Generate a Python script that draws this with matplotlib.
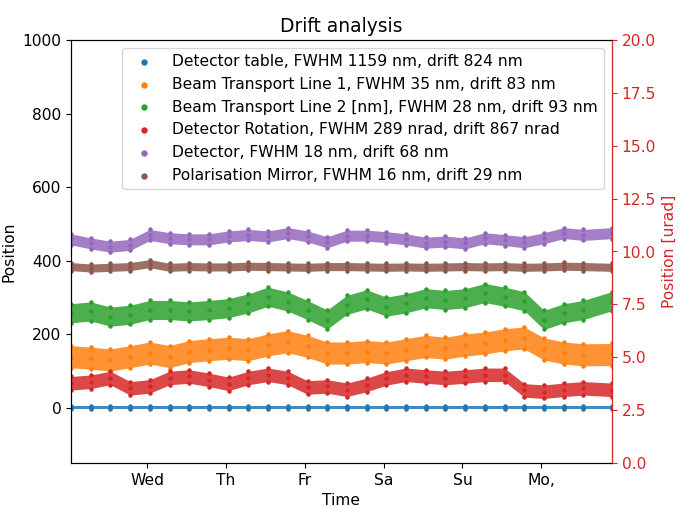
import pandas as pd
import matplotlib
matplotlib.use("Agg")
import matplotlib.pyplot as plt

plt.rcParams["font.size"] = 11.2

# sample times, hours after the start of the run (Tue ~00:51)
t_hours = [0, 6, 12, 18, 24, 30, 36, 42, 48, 54, 60, 66, 72, 78,
           84, 90, 96, 102, 108, 114, 120, 126, 132, 138, 144, 150, 156, 164.7]

# position values, left axis [nm]
detector_table = [0, 0, 0, 0, 0, 0, 0, 0, 0, 0, 0, 0, 0, 0,
                  0, 0, 0, 0, 0, 0, 0, 0, 0, 0, 0, 0, 0, 0]
btl1 = [139, 135, 130, 139, 149, 139, 153, 158, 162, 158, 171, 180, 167, 149,
        149, 153, 149, 158, 167, 162, 171, 176, 185, 190, 160, 149, 144, 145]
btl2 = [257, 262, 248, 253, 266, 266, 262, 266, 271, 284, 302, 289, 266, 240,
        280, 295, 275, 284, 298, 293, 298, 312, 302, 290, 239, 257, 266, 290]
detector = [458, 447, 438, 443, 470, 461, 458, 458, 466, 470, 466, 475, 466, 450,
            468, 468, 464, 458, 449, 452, 447, 461, 456, 450, 461, 475, 470, 475]
pol_mirror = [384, 380, 382, 384, 392, 382, 384, 383, 383, 385, 384, 383, 382, 384,
              384, 383, 382, 383, 382, 383, 384, 383, 384, 382, 383, 385, 384, 382]

# right axis [urad]
det_rotation = [3.77, 3.84, 4.02, 3.53, 3.62, 4.02, 4.09, 3.93, 3.74, 4.02, 4.17, 4.02, 3.57, 3.62,
                3.46, 3.69, 4.00, 4.17, 4.09, 4.02, 4.09, 4.17, 4.17, 3.43, 3.37, 3.46, 3.53, 3.46]

# half width of the scatter band of each series
spread_nm = {"table": 4, "btl1": 30, "btl2": 26, "detector": 15, "mirror": 11}
spread_urad = 0.32

labels = [
    "Detector table, FWHM 1159 nm, drift 824 nm",
    "Beam Transport Line 1, FWHM 35 nm, drift 83 nm",
    "Beam Transport Line 2 [nm], FWHM 28 nm, drift 93 nm",
    "Detector Rotation, FWHM 289 nrad, drift 867 nrad",
    "Detector, FWHM 18 nm, drift 68 nm",
    "Polarisation Mirror, FWHM 16 nm, drift 29 nm",
]
day_ticks = ["2024-01-03", "2024-01-04", "2024-01-05", "2024-01-06", "2024-01-07", "2024-01-08"]
day_labels = ["Wed", "Th", "Fr", "Sa", "Su", "Mo,"]

t0 = pd.Timestamp("2024-01-02 00:51")
times = t0 + pd.to_timedelta(t_hours, unit="h")


def draw_band(ax, t, vals, spread, color, label):
    lo = [v - spread for v in vals]
    hi = [v + spread for v in vals]
    ax.fill_between(t, lo, hi, color=color, alpha=0.85, lw=0)
    ax.scatter(t, lo, s=5, color=color)
    ax.scatter(t, hi, s=5, color=color)
    return ax.scatter(t, vals, s=5, color=color, label=label)


fig, ax1 = plt.subplots(figsize=(6.81, 5.05), dpi=100)
fig.subplots_adjust(left=71 / 681, right=612 / 681, top=1 - 40 / 505, bottom=1 - 463 / 505)

h = []
h.append(draw_band(ax1, times, detector_table, spread_nm["table"], "tab:blue", labels[0]))
h.append(draw_band(ax1, times, btl1, spread_nm["btl1"], "tab:orange", labels[1]))
h.append(draw_band(ax1, times, btl2, spread_nm["btl2"], "tab:green", labels[2]))
h_det = draw_band(ax1, times, detector, spread_nm["detector"], "tab:purple", labels[4])
h_mir = draw_band(ax1, times, pol_mirror, spread_nm["mirror"], "tab:brown", labels[5])

ax1.set_ylim(-150, 1000)
ax1.set_ylabel("Position")
ax1.set_xlabel("Time")
ax1.set_title("Drift analysis")
ax1.set_xlim(times[0], times[-1])
ax1.set_xticks(pd.to_datetime(day_ticks))
ax1.set_xticklabels(day_labels)

ax2 = ax1.twinx()
h_rot = draw_band(ax2, times, det_rotation, spread_urad, "tab:red", labels[3])
ax2.set_ylim(0, 20)
ax2.set_ylabel("Position [urad]", color="tab:red")
ax2.tick_params(axis="y", colors="tab:red")
ax2.spines["right"].set_color("tab:red")

h += [h_rot, h_det, h_mir]
ax2.legend(handles=h, labels=[x.get_label() for x in h], loc="upper right", markerscale=1.6)

fig.savefig("out.png", dpi=100)
